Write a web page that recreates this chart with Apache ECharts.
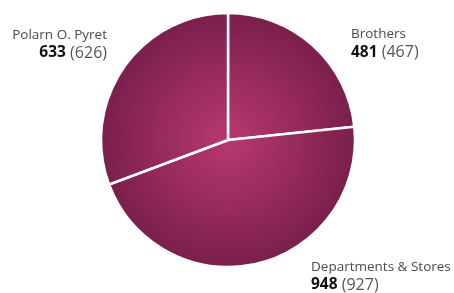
<!DOCTYPE html>
<html>
<head>
<meta charset="utf-8">
<script src="https://cdn.jsdelivr.net/npm/echarts@6/dist/echarts.min.js"></script>
<style>
html, body { margin: 0; padding: 0; background: #fff; }
#chart { width: 454px; height: 293px; }
</style>
</head>
<body>
<div id="chart"></div>
<script>
var names = ['Brothers', 'Departments & Stores', 'Polarn O. Pyret'];
var values = [481, 948, 633];
var previous = [467, 927, 626];

// label anchors (left/right edge, top)
var labelPos = [
    {x: 351, y: 25.5, align: 'left'},
    {x: 311, y: 258, align: 'left'},
    {x: 107, y: 26, align: 'right'}
];

var chart = echarts.init(document.getElementById('chart'));

var data = [];
for (var i = 0; i < names.length; i++) {
    data.push({name: names[i], value: values[i]});
}

chart.setOption({
    animation: false,
    series: [{
        type: 'pie',
        center: [228, 140],
        radius: 127,
        startAngle: 90,
        clockwise: true,
        data: data,
        itemStyle: {
            borderColor: '#fff',
            borderWidth: 2.5,
            color: {
                type: 'radial', global: true,
                x: 228, y: 140, r: 127,
                colorStops: [
                    {offset: 0, color: '#b8396f'},
                    {offset: 1, color: '#7a1f4c'}
                ]
            }
        },
        label: {
            show: true,
            position: 'outside',
            overflow: 'none',
            width: 200,
            formatter: function (p) {
                return '{n|' + p.name + '}\n{b|' + p.value + '}{p| (' + previous[p.dataIndex] + ')}';
            },
            rich: {
                n: {fontFamily: 'Open Sans', fontSize: 13.5, color: '#4a4a4a', lineHeight: 18},
                b: {fontFamily: 'Open Sans', fontSize: 15.5, fontWeight: 'bold', color: '#111', lineHeight: 18},
                p: {fontFamily: 'Open Sans', fontSize: 16, color: '#555', lineHeight: 18}
            }
        },
        labelLine: {show: false},
        labelLayout: function (params) {
            var lp = labelPos[params.dataIndex];
            return {x: lp.x, y: lp.y, align: lp.align, verticalAlign: 'top'};
        },
        emphasis: {disabled: true}
    }]
});
</script>
</body>
</html>
